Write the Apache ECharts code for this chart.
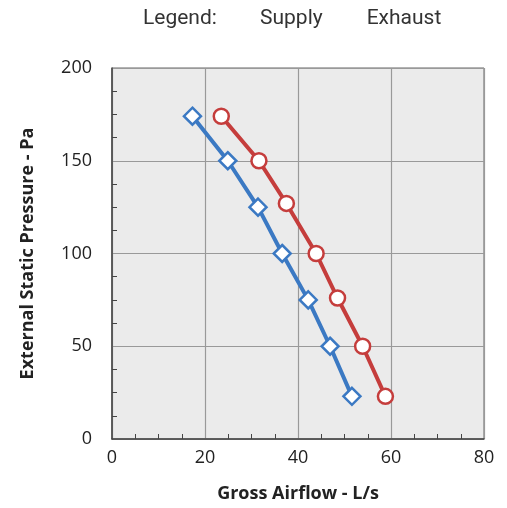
<!DOCTYPE html>
<html>
<head>
<meta charset="utf-8">
<script src="https://cdn.jsdelivr.net/npm/echarts@6/dist/echarts.min.js"></script>
<style>html,body{margin:0;padding:0;background:#fff}#c{width:507px;height:508px}</style>
</head>
<body>
<div id="c"></div>
<script>
const supplyFlow = [17.3, 24.9, 31.4, 36.6, 42.2, 46.9, 51.6];
const supplyPressure = [174, 150, 125, 100, 75, 50, 23];
const exhaustFlow = [23.5, 31.6, 37.5, 43.9, 48.5, 53.9, 58.8];
const exhaustPressure = [174, 150, 127, 100, 76, 50, 23];
const seriesNames = ['Supply', 'Exhaust'];

const chart = echarts.init(document.getElementById('c'));
const font = 'Open Sans';
chart.setOption({
  animation: false,
  backgroundColor: '#fff',
  title: {
    text: 'Legend:', left: 138, top: 3,
    textStyle: {fontFamily: 'Roboto', fontSize: 21, fontWeight: 'normal', color: '#333'}
  },
  legend: {
    data: seriesNames, left: 249, top: 3, itemWidth: 0, itemHeight: 0, itemGap: 38,
    textStyle: {fontFamily: 'Roboto', fontSize: 21, color: '#333'}
  },
  grid: {left: 112, right: 23, top: 68, bottom: 69, show: true, backgroundColor: '#ebebeb', borderColor: '#666', borderWidth: 1},
  xAxis: {
    type: 'value', min: 0, max: 80, interval: 20,
    name: 'Gross Airflow - L/s', nameLocation: 'middle', nameGap: 46,
    nameTextStyle: {fontFamily: font, fontSize: 18, fontWeight: 'bold', color: '#222'},
    axisLine: {show: true, lineStyle: {color: '#444', width: 1.5}},
    axisTick: {show: false, inside: true},
    minorTick: {show: true, splitNumber: 4, length: 5, lineStyle: {color: '#444'}},
    splitLine: {show: true, lineStyle: {color: '#999', width: 1.2}},
    axisLabel: {fontFamily: font, fontSize: 18, color: '#222', margin: 10}
  },
  yAxis: {
    type: 'value', min: 0, max: 200, interval: 50,
    name: 'External Static Pressure - Pa', nameLocation: 'middle', nameGap: 75,
    nameTextStyle: {fontFamily: font, fontSize: 18, fontWeight: 'bold', color: '#222'},
    axisLine: {show: true, lineStyle: {color: '#444', width: 1.5}},
    axisTick: {show: false, inside: true},
    minorTick: {show: true, splitNumber: 4, length: 5, lineStyle: {color: '#444'}},
    splitLine: {show: true, lineStyle: {color: '#999', width: 1.2}},
    axisLabel: {fontFamily: font, fontSize: 18, color: '#222', margin: 20}
  },
  series: [
    {
      name: seriesNames[0], type: 'line',
      data: supplyFlow.map((x, i) => [x, supplyPressure[i]]),
      symbol: 'diamond', symbolSize: 17,
      lineStyle: {color: '#3b79c3', width: 4},
      itemStyle: {color: '#fff', borderColor: '#3b79c3', borderWidth: 2.5}
    },
    {
      name: seriesNames[1], type: 'line',
      data: exhaustFlow.map((x, i) => [x, exhaustPressure[i]]),
      symbol: 'circle', symbolSize: 15,
      lineStyle: {color: '#c53d3c', width: 4},
      itemStyle: {color: '#fff', borderColor: '#c53d3c', borderWidth: 2.5}
    }
  ]
});
</script>
</body>
</html>
